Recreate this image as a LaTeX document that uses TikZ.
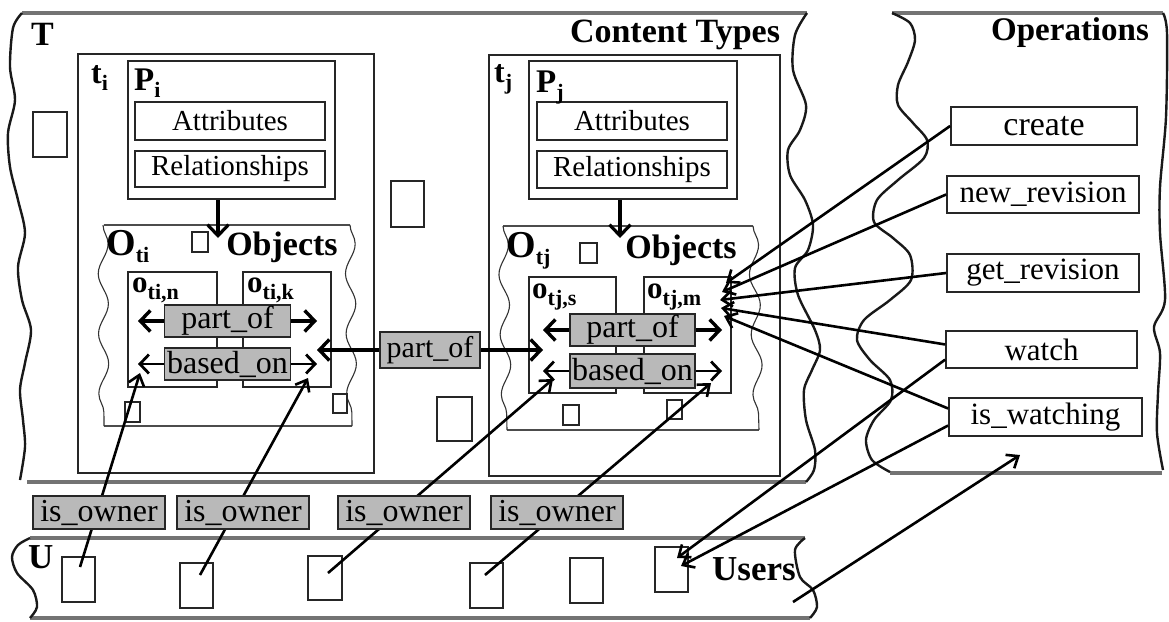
\documentclass[tikz,border=0pt]{standalone}
\usepackage{fontspec}
\setmainfont{Liberation Serif}
\usepackage{xcolor}
\usetikzlibrary{arrows.meta, decorations.pathmorphing, positioning}
\definecolor{relgray}{RGB}{185,185,185}

\newcommand{\sublbl}[3]{{\fontsize{#1}{#1}\selectfont\bfseries #2}\raisebox{-7pt}{\fontsize{22}{22}\selectfont\bfseries #3}}

\begin{document}
\begin{tikzpicture}[x=1pt, y=-1pt,
		box/.style 2 args={draw=black!85, line width=1.6pt, inner sep=0pt,
			minimum width=#1, minimum height=#2},
		rel/.style={draw=black!85, line width=1.5pt, fill=relgray, inner sep=0pt,
			minimum height=32pt, font=\fontsize{32}{32}\selectfont},
		op/.style={draw=black!85, line width=1.8pt, inner sep=0pt, minimum width=191pt,
			minimum height=37pt, font=\fontsize{31}{31}\selectfont},
		region/.style={draw=black!55, line width=3.5pt},
		rim/.style={draw=black!90, line width=2.4pt},
		fold/.style={draw=black!80, line width=1.1pt, decorate,
			decoration={snake, amplitude=5pt, segment length=60pt}},
		heading/.style={inner sep=0pt, font=\fontsize{34}{34}\selectfont\bfseries},
		lbl/.style={inner sep=0pt, anchor=base west},
		fatrel/.style={line width=3.4pt, {Straight Barb[length=10pt,width=21pt]}-{Straight Barb[length=10pt,width=21pt]}},
		slimrel/.style={line width=2.8pt, {Straight Barb[length=9pt,width=19pt]}-{Straight Barb[length=9pt,width=19pt]}},
		link/.style={line width=2.6pt, -{Straight Barb[length=10pt,width=16pt]}},
		feed/.style={line width=3.2pt, -{Straight Barb[length=11pt,width=21pt]}}
		]
		\useasboundingbox (0,0) rectangle (1169,621);
		% regions
		\draw[region] (22,13) -- (807,13);
		\draw[region] (27,482) -- (806,482);
		\draw[rim] plot[smooth] coordinates {(22,13) (13,28) (10,67) (15,100) (8,133) (10,167) (18,200) (25,233) (18,267) (22,300) (31,330) (25,363) (20,390) (23,420) (25,447) (20,480)};
		\draw[rim] plot[smooth] coordinates {(807,13) (795,35) (793,70) (806,105) (800,130) (788,150) (790,175) (805,200) (813,225) (808,250) (795,268) (798,295) (815,330) (820,350) (812,370) (804,390) (806,420) (815,450) (814,470) (806,482)};
		\draw[region] (892,13) -- (1163,13);
		\draw[region] (890,473) -- (1162,473);
		\draw[rim] plot[smooth] coordinates {(892,13) (910,23) (915,40) (908,62) (898,85) (898,105) (913,123) (927,140) (924,158) (898,180) (877,200) (874,222) (893,238) (910,255) (911,280) (890,300) (864,320) (857,340) (870,360) (890,380) (891,400) (874,420) (866,440) (872,460) (890,472)};
		\draw[rim] plot[smooth] coordinates {(1163,13) (1167,33) (1166,117) (1160,187) (1160,233) (1165,300) (1154,327) (1160,353) (1158,393) (1157,433) (1163,470)};
		\draw[region] (30,538) -- (805,538);
		\draw[region] (30,618) -- (810,618);
		\draw[rim] plot[smooth] coordinates {(30,538) (18,545) (12,557) (17,573) (33,590) (37,607) (30,618)};
		\draw[rim] plot[smooth] coordinates {(805,538) (795,550) (800,577) (813,590) (817,607) (810,618)};
		% content types
		\node[box={296pt}{419pt}] (ti) at (226,263.5) {};
		\node[box={291pt}{421pt}] (tj) at (634.5,265.5) {};
		\node[box={207pt}{138pt}] (pi) at (231.5,130) {};
		\node[box={190pt}{38pt}, font=\fontsize{29}{29}\selectfont] (attri) at (230,121) {Attributes};
		\node[box={190pt}{36pt}, font=\fontsize{29}{29}\selectfont] (reli) at (230,169) {Relationships};
		\node[box={208pt}{138pt}] (pj) at (633,130) {};
		\node[box={190pt}{38pt}, font=\fontsize{29}{29}\selectfont] (attrj) at (632,121) {Attributes};
		\node[box={190pt}{37pt}, font=\fontsize{29}{29}\selectfont] (relj) at (632,169.5) {Relationships};
		% objects
		\draw[region, draw=black!70, line width=1.2pt] (104,225) -- (350,225);
		\draw[region, draw=black!70, line width=1.2pt] (104,426) -- (352,426);
		\draw[fold] (103,225) -- (104,426);
		\draw[fold] (350,225) -- (352,426);
		\draw[region, draw=black!70, line width=1.2pt] (503,226) -- (753,226);
		\draw[region, draw=black!70, line width=1.2pt] (507,430) -- (759,430);
		\draw[fold] (503,226) -- (507,430);
		\draw[fold] (753,226) -- (759,430);
		\coordinate (oi) at (218,238);
		\coordinate (oj) at (620,238);
		\draw[feed] (pi.south -| oi) -- (oi);
		\draw[feed] (pj.south -| oj) -- (oj);
		\node[box={89pt}{115pt}] (otin) at (172.5,329.5) {};
		\node[box={88pt}{115pt}] (otik) at (287,329.5) {};
		\node[box={87pt}{116pt}] (otjs) at (572.5,335) {};
		\node[box={87pt}{116pt}] (otjm) at (687.5,335) {};
		% loose items
		\node[box={34pt}{45pt}] (sq1) at (50,134.5) {};
		\node[box={33pt}{46pt}] (sq2) at (407.5,204) {};
		\node[box={35pt}{44pt}] (sq3) at (454.5,419) {};
		\node[box={16pt}{20pt}] (sqa) at (200,242) {};
		\node[box={15pt}{20pt}] (sqb) at (132.5,412) {};
		\node[box={14pt}{19pt}] (sqc) at (340,403.5) {};
		\node[box={17pt}{20pt}] (sqd) at (588.5,253) {};
		\node[box={16pt}{20pt}] (sqe) at (571,415) {};
		\node[box={15pt}{19pt}] (sqf) at (674.5,409.5) {};
		% users
		\node[box={33pt}{45pt}] (u1) at (78.5,579.5) {};
		\node[box={33pt}{45pt}] (u2) at (196.5,585.5) {};
		\node[box={34pt}{44pt}] (u3) at (325,578) {};
		\node[box={33pt}{45pt}] (u4) at (486.5,585.5) {};
		\node[box={33pt}{45pt}] (u5) at (586.5,580.5) {};
		\node[box={33pt}{45pt}] (u6) at (671.5,569.5) {};
		% operations
		\node[op, minimum width=186pt, minimum height=38pt, font=\fontsize{34}{34}\selectfont] (create) at (1044,126) {create};
		\node[op, minimum width=192pt] (newrev) at (1043,194.5) {new\_revision};
		\node[op, minimum width=192pt, minimum height=38pt] (getrev) at (1043,273) {get\_revision};
		\node[op] (watch) at (1041.5,349.5) {watch};
		\node[op, minimum width=193pt, minimum height=38pt] (iswatch) at (1045.5,417) {is\_watching};
		% ownership
		\coordinate (u1in) at (80,567);
		\coordinate (u2in) at (200,575);
		\coordinate (u3in) at (328,573);
		\coordinate (u4in) at (485,575);
		\coordinate (own1t) at (140,373);
		\coordinate (own2t) at (308,378);
		\coordinate (own3t) at (553,379);
		\coordinate (own4t) at (711,383);
		\draw[link] (u1in) -- (own1t);
		\draw[link] (u2in) -- (own2t);
		\draw[link] (u3in) -- (own3t);
		\draw[link] (u4in) -- (own4t);
		\node[rel, minimum width=132pt, minimum height=33pt] (own1) at (99,512.5) {is\_owner};
		\node[rel, minimum width=132pt, minimum height=33pt] (own2) at (243,512.5) {is\_owner};
		\node[rel, minimum width=132pt, minimum height=33pt] (own3) at (404,512.5) {is\_owner};
		\node[rel, minimum width=132pt, minimum height=33pt] (own4) at (557,512.5) {is\_owner};
		% relations between objects
		\coordinate (pia) at (138,321);
		\coordinate (pib) at (317,321);
		\coordinate (bia) at (138,364);
		\coordinate (bib) at (317,364);
		\coordinate (pja) at (543,330);
		\coordinate (pjb) at (722,330);
		\coordinate (bja) at (543,371);
		\coordinate (bjb) at (722,371);
		\coordinate (mida) at (317,350);
		\coordinate (midb) at (543,350);
		\draw[fatrel] (pia) -- node[rel, minimum width=126pt] (parti) {part\_of} (pib);
		\draw[slimrel] (bia) -- node[rel, minimum width=126pt] (basedi) {based\_on} (bib);
		\draw[fatrel] (pja) -- node[rel, minimum width=125pt] (partj) {part\_of} (pjb);
		\draw[slimrel] (bja) -- node[rel, minimum width=125pt, minimum height=34pt] (basedj) {based\_on} (bjb);
		\draw[fatrel] (mida) -- node[rel, minimum width=100pt, minimum height=36pt, font=\fontsize{30}{30}\selectfont] (partmid) {part\_of} (midb);
		% operations on objects and users
		\coordinate (m1) at (726,283);
		\coordinate (m2) at (722,292);
		\coordinate (m3) at (720,300);
		\coordinate (m4) at (721,308);
		\coordinate (m5) at (724,316);
		\draw[link] (create.west) -- (m1);
		\draw[link] (newrev.west) -- (m2);
		\draw[link] (getrev.west) -- (m3);
		\draw[link] (watch.177) -- (m4);
		\draw[link] (iswatch.175) -- (m5);
		\coordinate (w1) at (677,558);
		\coordinate (w2) at (681,566);
		\draw[link] (watch.186) -- (w1);
		\draw[link] (iswatch.185) -- (w2);
		\coordinate (ufrom) at (793,602);
		\coordinate (uto) at (1020,455);
		\draw[link] (ufrom) -- (uto);
		% labels
		\node[lbl, font=\fontsize{34}{34}\selectfont\bfseries] (tlbl) at (31,45) {T};
		\node[lbl, font=\fontsize{35}{35}\selectfont\bfseries] (ulbl) at (28,568) {U};
		\node[heading, anchor=base] (ctlbl) at (675,42) {Content Types};
		\node[heading, anchor=base, font=\fontsize{33}{33}\selectfont\bfseries] (oplbl) at (1070,40) {Operations};
		\node[heading, anchor=base west, font=\fontsize{35}{35}\selectfont\bfseries] (uslbl) at (712,580) {Users};
		\node[lbl] (tilbl) at (91,83) {\sublbl{32}{t}{i}};
		\node[lbl] (pilbl) at (134,90) {\sublbl{33}{P}{i}};
		\node[lbl] (tjlbl) at (494,82) {\sublbl{32}{t}{j}};
		\node[lbl] (pjlbl) at (536,92) {\sublbl{33}{P}{j}};
		\node[lbl] (otilbl) at (106,255) {\sublbl{38}{O}{ti}};
		\node[lbl] (otjlbl) at (506,257) {\sublbl{38}{O}{tj}};
		\node[heading, anchor=base] (obji) at (282,255) {Objects};
		\node[heading, anchor=base] (objj) at (681,258) {Objects};
		\node[lbl] (nlbl) at (132,292) {\sublbl{31}{o}{ti,n}};
		\node[lbl] (klbl) at (247,292) {\sublbl{31}{o}{ti,k}};
		\node[lbl] (slbl) at (532,298) {\sublbl{31}{o}{tj,s}};
		\node[lbl] (mlbl) at (647,298) {\sublbl{31}{o}{tj,m}};
\end{tikzpicture}
\end{document}
